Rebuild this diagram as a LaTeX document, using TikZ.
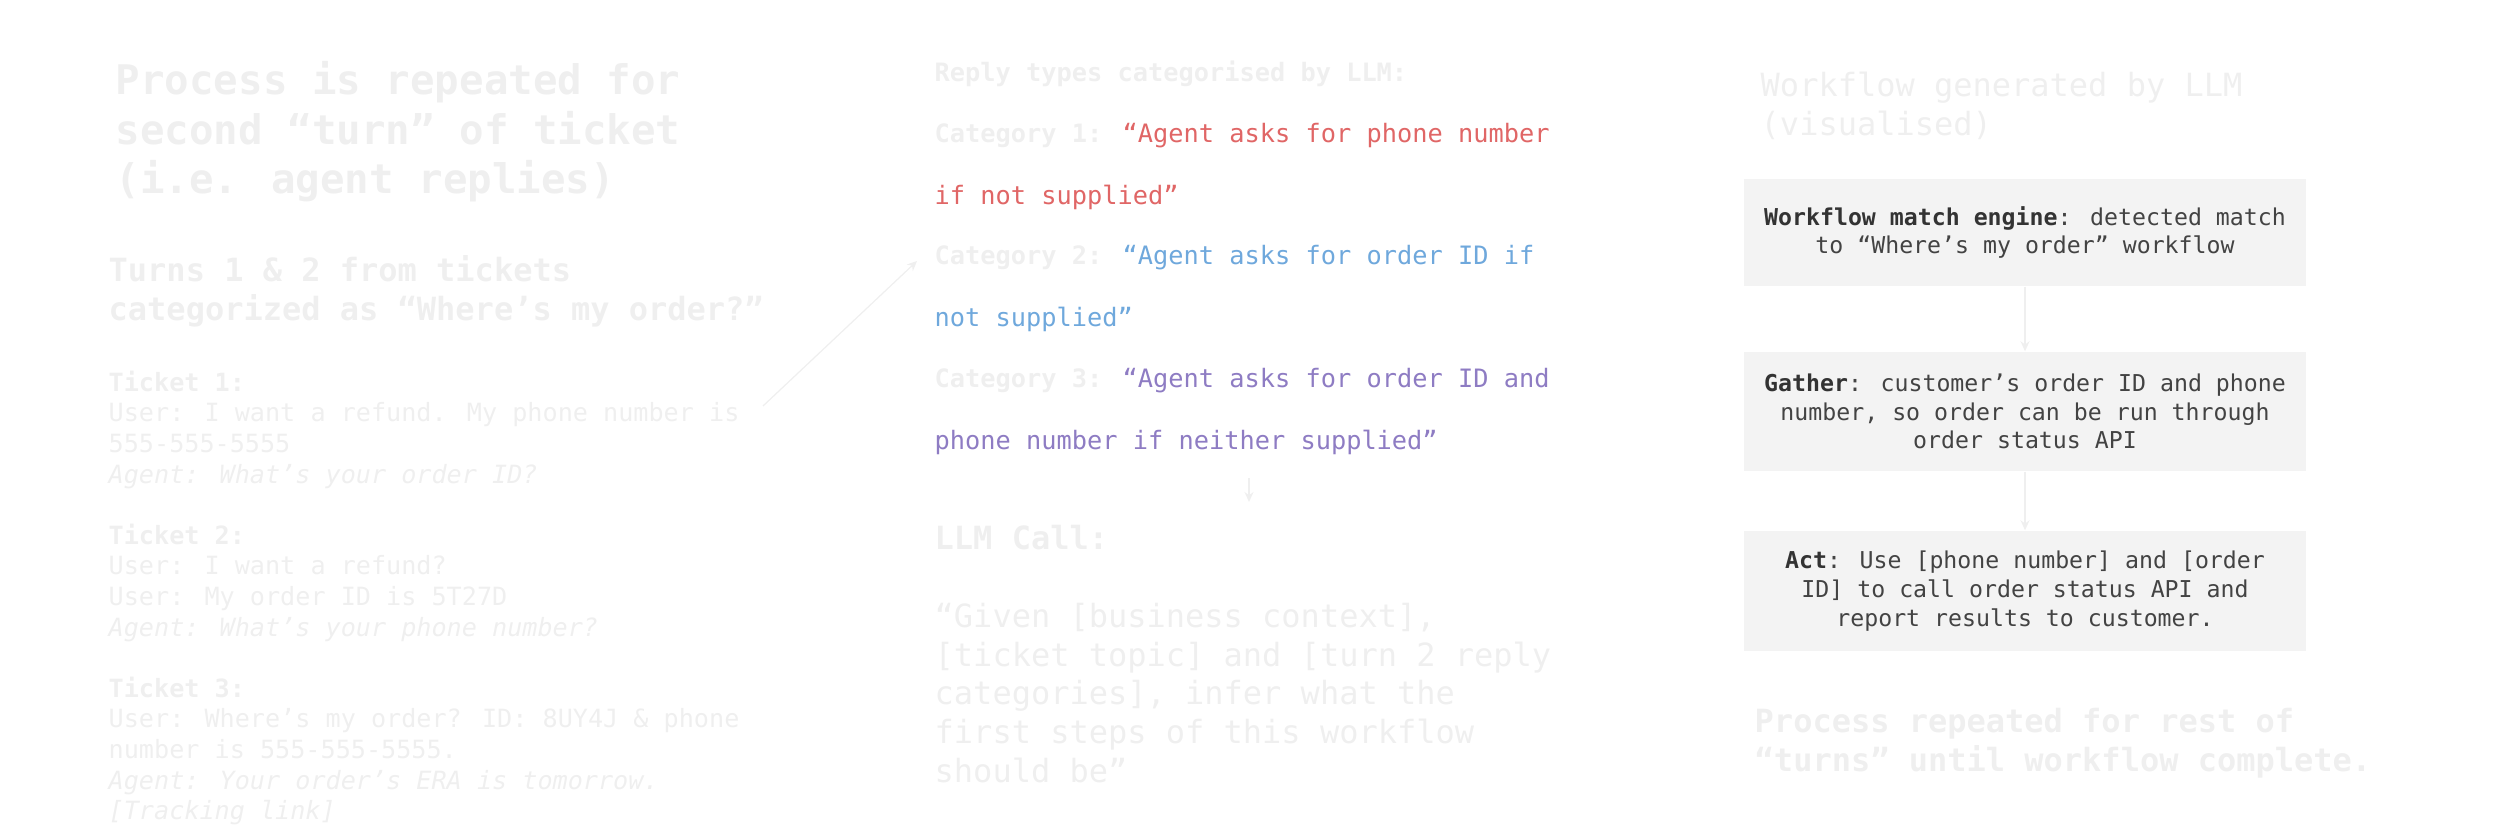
\documentclass[tikz,border=0pt]{standalone}
\usepackage{fontspec}
\setmainfont{DejaVu Sans Mono}
\usetikzlibrary{arrows.meta}
\definecolor{faded}{HTML}{EFEFEF}
\definecolor{catred}{HTML}{E06666}
\definecolor{catblue}{HTML}{6FA8DC}
\definecolor{catpurple}{HTML}{8E7CC3}
\definecolor{boxfill}{HTML}{F3F3F3}
\definecolor{boxtext}{HTML}{434343}

\begin{document}
\begin{tikzpicture}[x=0.01cm,y=-0.01cm,>={Stealth[length=1mm,width=0.9mm]},
  every node/.style={inner sep=0pt,anchor=west,align=left},
  title/.style={font=\fontsize{11.6}{14.1}\selectfont\bfseries,text=faded},
  head/.style={font=\fontsize{9.1}{11}\selectfont\bfseries,text=faded},
  plain/.style={font=\fontsize{9.1}{11}\selectfont,text=faded},
  small/.style={font=\fontsize{7.15}{8.7}\selectfont,text=faded},
  cat/.style={font=\fontsize{7.2}{8.8}\selectfont},
  box/.style={fill=boxfill,text=boxtext,anchor=center,align=center,
    minimum width=5.62cm,font=\fontsize{6.6}{8.2}\selectfont},
  link/.style={draw=faded,line width=0.35pt}]
  \useasboundingbox (0,0) rectangle (2500,833);

  \node[title] (proc) at (115,132) {Process is repeated for\\second “turn” of ticket\\(i.e. agent replies)};
  \node[head] (turns) at (108,291) {Turns 1 \& 2 from tickets\\categorized as “Where’s my order?”};
  \node[small] (tix) at (108,598) {\textbf{Ticket 1:}\\
    User: I want a refund. My phone number is\\
    555-555-5555\\
    \textit{Agent: What’s your order ID?}\\[8.7pt]
    \textbf{Ticket 2:}\\
    User: I want a refund?\\
    User: My order ID is 5T27D\\
    \textit{Agent: What’s your phone number?}\\[8.7pt]
    \textbf{Ticket 3:}\\
    User: Where’s my order? ID: 8UY4J \& phone\\
    number is 555-555-5555.\\
    \textit{Agent: Your order’s ERA is tomorrow.}\\
    \textit{[Tracking link]}};

  \node[cat,text=faded] (reply) at (934,74) {\textbf{Reply types categorised by LLM:}};
  \foreach \y/\n/\c/\a/\b in {
    136/1/catred/{“Agent asks for phone number}/{if not supplied”},
    258/2/catblue/{“Agent asks for order ID if}/{not supplied”},
    381/3/catpurple/{“Agent asks for order ID and}/{phone number if neither supplied”}}
  {
    \node[cat] (cat\n) at (934,\y) {\textcolor{faded}{\textbf{Category \n:}} \textcolor{\c}{\a}};
    \node[cat,text=\c] (more\n) at (934,\y+61.3) {\b};
  }
  \node[head] (call) at (934,538) {LLM Call:};
  \node[plain] (given) at (934,693) {“Given [business context],\\{[ticket topic] and [turn 2 reply}\\categories], infer what the\\first steps of this workflow\\should be”};

  \node[plain] (wf) at (1760,106) {Workflow generated by LLM\\(visualised)};
  \node[box,minimum height=1.07cm] (match) at (2025,232.5) {\textbf{\color{black!80}Workflow match engine}: detected match\\to “Where’s my order” workflow};
  \node[box,minimum height=1.19cm] (gather) at (2025,411.5) {\textbf{\color{black!80}Gather}: customer’s order ID and phone\\number, so order can be run through\\order status API};
  \node[box,minimum height=1.2cm] (act) at (2025,591) {\textbf{\color{black!80}Act}: Use [phone number] and [order\\ID] to call order status API and\\report results to customer.};
  \node[head] (rest) at (1754,743) {Process repeated for rest of\\“turns” until workflow complete.};

  \coordinate (tk) at (763,406);
  \coordinate (ct) at (917,261);
  \coordinate (cs) at (1249,478);
  \coordinate (lc) at (1249,502);
  \draw[link,->] (tk) -- (ct);
  \draw[link,->] (cs) -- (lc);
  \draw[link,->] (match) -- (gather);
  \draw[link,->] (gather) -- (act);
\end{tikzpicture}
\end{document}
